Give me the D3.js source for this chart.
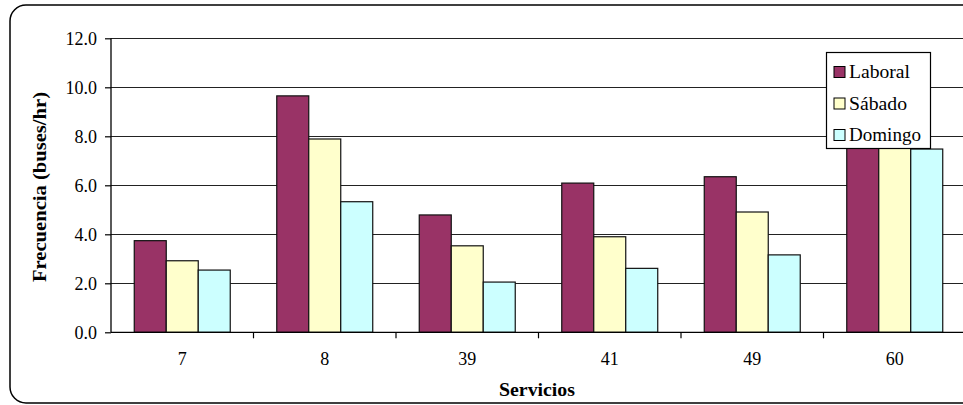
<!DOCTYPE html>
<html>
<head>
<meta charset="utf-8">
<script src="https://cdn.jsdelivr.net/npm/d3@7"></script>
<style>
  html, body { margin: 0; padding: 0; background: #fff; overflow: hidden; }
  svg { display: block; }
</style>
</head>
<body>
<svg id="chart" width="963" height="405"></svg>
<script>
const categories = ["7", "8", "39", "41", "49", "60"];
const seriesNames = ["Laboral", "Sábado", "Domingo"];
const laboral = [3.74, 9.65, 4.79, 6.09, 6.35, 10.0];
const sabado  = [2.92, 7.89, 3.53, 3.90, 4.91, 8.5];
const domingo = [2.54, 5.33, 2.05, 2.61, 3.16, 7.48];
const yTicks = [0, 2, 4, 6, 8, 10, 12];
const colors = ["#993366", "#FFFFCC", "#CCFFFF"];

const FONT = '"Liberation Serif"';
const seriesValues = [laboral, sabado, domingo];
const legendWidths = [61, 58, 72];
const svg = d3.select("#chart");

// outer rounded frame
svg.append("rect")
  .attr("x", 10).attr("y", 5)
  .attr("width", 975).attr("height", 398)
  .attr("rx", 16).attr("ry", 16)
  .attr("fill", "#fff").attr("stroke", "#000").attr("stroke-width", 1.5);

const pLeft = 111, pTop = 38.3, pBottom = 332.3;
const pRight = pLeft + 6 * 142.5;

const x = d3.scaleBand().domain(categories).range([pLeft, pRight]).paddingInner(0).paddingOuter(0);
const y = d3.scaleLinear().domain([0, 12]).range([pBottom, pTop]);
const xs = d3.scaleBand().domain(seriesNames).range([0, x.bandwidth()]).paddingInner(0).paddingOuter(0.727);

// gridlines
svg.append("g").selectAll("line").data(yTicks.filter(d => d > 0)).join("line")
  .attr("x1", pLeft).attr("x2", pRight)
  .attr("y1", d => Math.round(y(d)) + 0.5).attr("y2", d => Math.round(y(d)) + 0.5)
  .attr("stroke", "#222").attr("stroke-width", 1.2);

// bars
const groups = svg.append("g").selectAll("g").data(categories).join("g")
  .attr("transform", d => `translate(${x(d)},0)`);
groups.selectAll("rect").data((c, i) => seriesNames.map((s, k) => ({ s, k, v: seriesValues[k][i] })))
  .join("rect")
  .attr("x", d => xs(d.s)).attr("width", xs.bandwidth())
  .attr("y", d => y(d.v)).attr("height", d => y(0) - y(d.v))
  .attr("fill", d => colors[d.k]).attr("stroke", "#111").attr("stroke-width", 1.2);

// y axis
const yAxis = d3.axisLeft(y).tickValues(yTicks).tickFormat(d3.format(".1f")).tickSize(6).tickPadding(4);
const gy = svg.append("g").attr("transform", `translate(${pLeft},0)`).call(yAxis);
gy.select(".domain").attr("stroke", "#000").attr("stroke-width", 1.3).attr("d", `M0,${pTop}V${pBottom}`);
gy.selectAll(".tick line").attr("stroke", "#000").attr("stroke-width", 1.2);
gy.selectAll(".tick text").style("font-family", FONT).style("font-size", "18px").attr("fill", "#000").attr("x", -14);

// x axis
const xAxis = d3.axisBottom(x).tickSize(0).tickPadding(20);
const gx = svg.append("g").attr("transform", `translate(0,${pBottom})`).call(xAxis);
gx.select(".domain").attr("stroke", "#000").attr("stroke-width", 1.3).attr("d", `M${pLeft},0H${pRight}`);
gx.selectAll(".tick text").style("font-family", FONT).style("font-size", "18px").attr("fill", "#000");
// category boundary ticks
svg.append("g").selectAll("line").data(categories.slice(1)).join("line")
  .attr("x1", d => x(d)).attr("x2", d => x(d))
  .attr("y1", pBottom).attr("y2", pBottom + 6)
  .attr("stroke", "#000").attr("stroke-width", 1.2);

// axis titles
svg.append("text").attr("x", 537).attr("y", 396)
  .attr("text-anchor", "middle")
  .attr("textLength", 76).attr("lengthAdjust", "spacingAndGlyphs")
  .style("font-family", FONT).style("font-weight", "bold").style("font-size", "18px")
  .text("Servicios");
svg.append("text").attr("transform", "translate(46,187) rotate(-90)")
  .attr("text-anchor", "middle")
  .attr("textLength", 190).attr("lengthAdjust", "spacingAndGlyphs")
  .style("font-family", FONT).style("font-weight", "bold").style("font-size", "18px")
  .text("Frecuencia (buses/hr)");

// legend
const lg = svg.append("g").attr("transform", "translate(826,52)");
lg.append("rect").attr("x", 0.5).attr("y", 0.5).attr("width", 104).attr("height", 96)
  .attr("fill", "#fff").attr("stroke", "#000").attr("stroke-width", 1.2);
const items = lg.selectAll("g").data(seriesNames).join("g")
  .attr("transform", (d, i) => `translate(0,${19.5 + i * 31.5})`);
items.append("rect").attr("x", 8).attr("y", -5).attr("width", 11).attr("height", 11)
  .attr("fill", (d, i) => colors[i]).attr("stroke", "#000").attr("stroke-width", 1);
items.append("text").attr("x", 23).attr("y", 6.5)
  .attr("textLength", (d, i) => legendWidths[i]).attr("lengthAdjust", "spacingAndGlyphs")
  .style("font-family", FONT).style("font-size", "19px").text(d => d);
</script>
</body>
</html>
